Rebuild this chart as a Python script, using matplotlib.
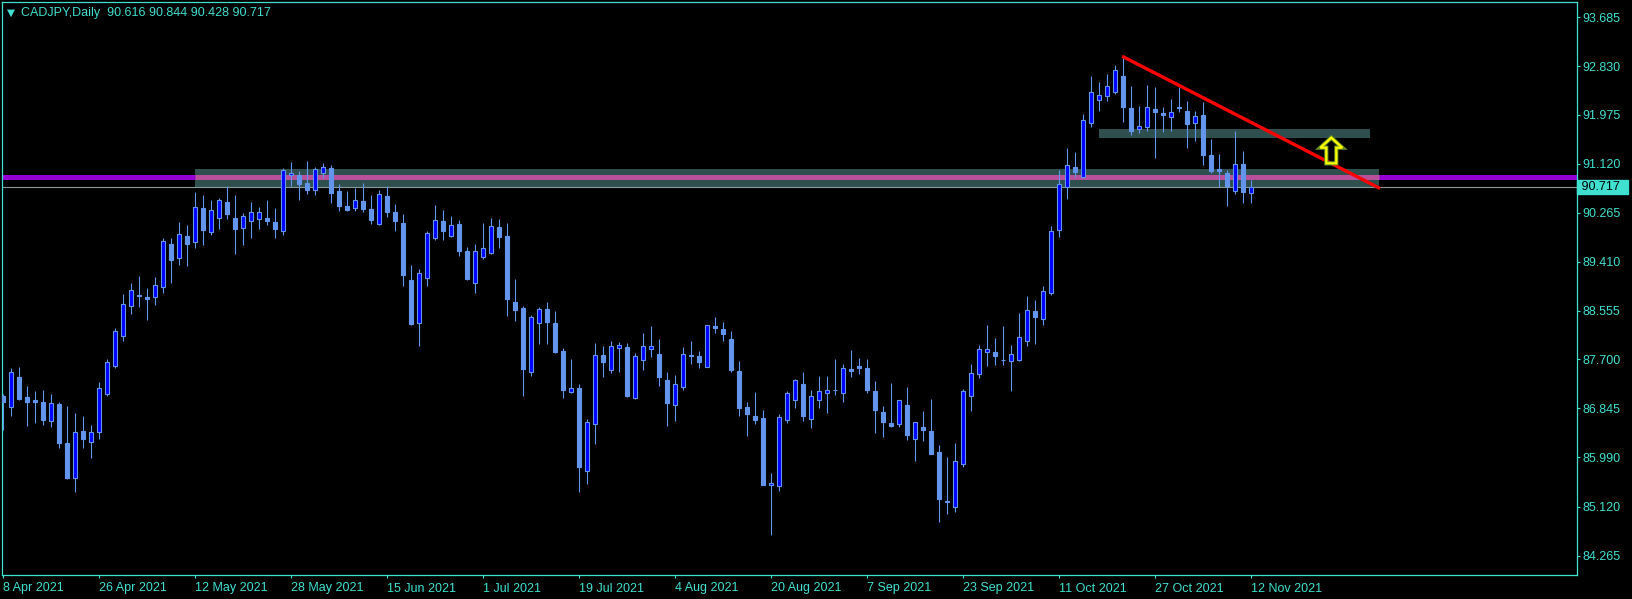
import numpy as np
import pandas as pd
import matplotlib
matplotlib.use("Agg")
import matplotlib.pyplot as plt
import matplotlib.transforms as mtransforms
from matplotlib.patches import Rectangle, Polygon

plt.rcParams['font.family'] = ['Liberation Sans', 'DejaVu Sans']

# daily CADJPY candles (Apr 8 -> Nov 12 2021)
first_day = "2021-04-08"
opens = [87.060, 86.874, 87.387, 87.043, 86.990, 86.955, 86.629, 86.920, 86.232, 85.632,
         86.448, 86.262, 86.436, 87.101, 87.591, 88.115, 88.628, 88.830, 88.792, 88.786,
         88.961, 89.719, 89.480, 89.858, 89.748, 90.342, 89.934, 90.179, 90.453, 90.173,
         90.004, 90.127, 90.162, 90.173, 90.103, 89.952, 90.925, 90.925, 90.785, 90.663,
         90.966, 91.048, 90.646, 90.383, 90.348, 90.471, 90.331, 90.068, 90.558, 90.278,
         90.086, 89.089, 88.331, 89.118, 89.829, 90.121, 89.864, 90.068, 89.596, 89.042,
         89.497, 89.567, 90.016, 89.859, 88.698, 88.599, 87.486, 88.331, 88.576, 88.331,
         87.841, 87.124, 87.194, 85.754, 86.565, 87.777, 87.509, 87.894, 87.911, 87.031,
         87.696, 87.876, 87.795, 87.340, 86.909, 87.223, 87.775, 87.754, 87.573, 88.279,
         88.232, 88.051, 87.497, 86.868, 86.710, 86.675, 85.498, 85.480, 86.635, 86.984,
         87.264, 86.652, 86.984, 87.107, 87.165, 87.107, 87.532, 87.585, 87.544, 87.148,
         86.780, 86.582, 86.576, 86.897, 86.303, 86.518, 86.448, 86.081, 85.222, 85.125,
         85.865, 87.055, 87.439, 87.824, 87.824, 87.687, 87.666, 87.696, 88.016, 88.541,
         88.413, 88.856, 89.958, 90.721, 91.065, 90.896, 91.829, 92.231, 92.301, 92.371,
         92.651, 92.091, 91.736, 91.771, 92.074, 92.010, 91.934, 92.112, 92.039, 91.829,
         91.969, 91.269, 91.030, 90.960, 90.640, 91.112, 90.616]
highs = [87.095, 87.544, 87.567, 87.235, 87.148, 87.165, 87.095, 86.949, 86.885, 86.763,
         86.710, 86.553, 87.299, 87.701, 88.244, 88.844, 89.031, 89.159, 88.949, 89.141,
         89.818, 89.823, 90.103, 90.051, 90.628, 90.575, 90.488, 90.517, 90.733, 90.576,
         90.261, 90.453, 90.366, 90.488, 90.348, 91.048, 91.153, 90.995, 91.170, 91.065,
         91.135, 91.100, 90.768, 90.646, 90.698, 90.785, 90.576, 90.663, 90.733, 90.418,
         90.243, 89.351, 89.281, 89.946, 90.401, 90.313, 90.208, 90.138, 89.666, 89.719,
         90.086, 90.173, 90.156, 90.086, 89.106, 88.634, 88.477, 88.617, 88.704, 88.547,
         87.900, 87.707, 87.270, 86.658, 87.987, 87.935, 88.022, 87.999, 87.981, 87.812,
         88.162, 88.284, 88.057, 87.480, 87.427, 87.917, 88.022, 87.847, 88.310, 88.442,
         88.354, 88.197, 87.672, 86.955, 87.130, 86.815, 85.714, 86.745, 87.142, 87.357,
         87.480, 87.165, 87.410, 87.410, 87.707, 87.620, 87.865, 87.725, 87.707, 87.323,
         86.885, 87.288, 86.990, 87.218, 86.610, 86.798, 87.008, 86.203, 85.994, 86.238,
         87.183, 87.620, 87.952, 88.302, 88.075, 88.284, 87.952, 88.512, 88.809, 88.739,
         88.984, 90.028, 91.007, 91.398, 91.327, 91.986, 92.657, 92.552, 92.692, 92.849,
         92.966, 92.482, 92.132, 92.499, 92.464, 92.115, 92.254, 92.464, 92.219, 92.045,
         92.202, 91.555, 91.293, 91.013, 91.695, 91.345, 90.844]
lows = [86.466, 86.711, 86.990, 86.536, 86.594, 86.553, 86.524, 86.157, 85.609, 85.387,
        86.157, 85.982, 86.314, 87.066, 87.556, 88.028, 88.500, 88.622, 88.395, 88.658,
        88.867, 89.042, 89.351, 89.340, 89.654, 89.701, 89.882, 89.981, 90.156, 89.544,
        89.701, 89.824, 89.981, 90.051, 89.824, 89.876, 90.733, 90.488, 90.593, 90.576,
        90.879, 90.436, 90.296, 90.296, 90.296, 90.278, 90.068, 90.050, 90.191, 89.946,
        88.984, 88.302, 87.938, 88.990, 89.794, 89.789, 89.847, 89.515, 89.089, 88.867,
        89.462, 89.550, 89.654, 88.465, 88.378, 87.066, 87.416, 87.970, 87.970, 87.818,
        87.031, 87.107, 85.387, 85.527, 86.227, 87.398, 87.468, 87.486, 87.049, 87.014,
        87.521, 87.748, 87.241, 86.541, 86.629, 87.171, 87.626, 87.556, 87.560, 88.168,
        88.028, 87.486, 86.716, 86.366, 86.576, 85.500, 84.635, 85.405, 86.594, 86.856,
        86.629, 86.506, 86.856, 86.769, 87.080, 86.961, 87.398, 87.451, 87.118, 86.419,
        86.349, 86.524, 86.524, 86.297, 85.930, 86.279, 86.045, 84.862, 85.003, 85.037,
        85.813, 86.804, 87.369, 87.591, 87.608, 87.608, 87.154, 87.678, 87.941, 87.976,
        88.308, 88.833, 89.835, 90.505, 90.896, 90.879, 91.771, 92.050, 92.225, 92.336,
        91.858, 91.631, 91.666, 91.701, 91.229, 91.683, 91.701, 92.033, 91.403, 91.526,
        91.106, 90.966, 90.721, 90.389, 90.599, 90.441, 90.428]
closes = [86.961, 87.474, 87.002, 86.961, 86.961, 86.641, 86.932, 86.244, 85.632, 86.425,
          86.314, 86.425, 87.200, 87.649, 88.191, 88.663, 88.908, 88.815, 88.763, 88.996,
          89.765, 89.445, 89.888, 89.724, 90.360, 89.969, 90.307, 90.482, 90.243, 89.981,
          90.202, 90.272, 90.272, 90.121, 89.981, 91.007, 90.954, 90.768, 90.663, 91.024,
          91.059, 90.611, 90.383, 90.313, 90.488, 90.331, 90.138, 90.593, 90.278, 90.121,
          89.176, 88.319, 89.205, 89.905, 90.133, 89.952, 90.045, 89.602, 89.106, 89.590,
          89.643, 90.028, 89.847, 88.763, 88.570, 87.538, 88.436, 88.576, 88.360, 87.836,
          87.171, 87.194, 85.824, 86.600, 87.772, 87.661, 87.929, 87.946, 87.060, 87.754,
          87.929, 87.929, 87.398, 86.944, 87.264, 87.789, 87.765, 87.661, 88.296, 88.255,
          88.150, 87.521, 86.856, 86.751, 86.646, 85.510, 85.533, 86.687, 87.107, 87.334,
          86.716, 87.054, 87.142, 87.159, 87.160, 87.544, 87.503, 87.550, 87.171, 86.821,
          86.611, 86.541, 86.984, 86.384, 86.600, 86.471, 86.052, 85.259, 85.215, 85.918,
          87.142, 87.457, 87.876, 87.876, 87.766, 87.682, 87.789, 88.086, 88.558, 88.448,
          88.891, 89.940, 90.762, 91.094, 90.978, 91.881, 92.371, 92.318, 92.476, 92.756,
          92.120, 91.701, 91.776, 92.109, 92.033, 91.980, 92.021, 92.106, 91.823, 91.951,
          91.281, 91.001, 90.989, 90.739, 91.112, 90.634, 90.717]

price_ticks = [93.685, 92.830, 91.975, 91.120, 90.265, 89.410,
               88.555, 87.700, 86.845, 85.990, 85.120, 84.265]
date_step = 12

# drawn objects on the chart
support_zone = (23.96, 172.0, 90.715, 91.030)     # x0, x1 (bars), low, high
upper_zone = (136.96, 170.9, 91.578, 91.730)
level_line = 90.899
trend_start = (139.85, 93.003)
trend_end = (172.1, 90.690)
arrow_x, arrow_tip, arrow_neck, arrow_base = 166.0, 91.578, 91.403, 91.130

fg = '#40e0d0'
bull_fill = '#0000ff'
candle_col = '#6495ed'

o = np.array(opens); h = np.array(highs); l = np.array(lows); c = np.array(closes)
x = np.arange(len(o))
dates = pd.bdate_range(first_day, periods=len(o))
up = c > o

fig = plt.figure(figsize=(16.33, 5.99), dpi=100, facecolor='black')
ax = fig.add_axes([2.3 / 1633, 24 / 599, 1574.4 / 1633, 572.7 / 599])
ax.set_facecolor('black')

# zones and lines
ax.add_patch(Rectangle((support_zone[0], support_zone[2]), support_zone[1] - support_zone[0],
                       support_zone[3] - support_zone[2], facecolor='#2f4f4f', edgecolor='none', zorder=1))
ax.add_patch(Rectangle((upper_zone[0], upper_zone[2]), upper_zone[1] - upper_zone[0],
                       upper_zone[3] - upper_zone[2], facecolor='#2f4f4f', edgecolor='none', zorder=1))
ax.axhline(level_line, color='#9400d3', lw=3.6, zorder=2)
ax.plot([support_zone[0], support_zone[1]], [level_line, level_line], color='#b8509c', lw=3.6,
        solid_capstyle='butt', zorder=2.1)
ax.axhline(c[-1], color='#8a9a9a', lw=0.8, zorder=2.5)

# candles
ax.vlines(x, l, h, color=candle_col, lw=0.8, zorder=3)
ax.bar(x[up], (c - o)[up], bottom=o[up], width=0.5, color=bull_fill, edgecolor=candle_col, lw=0.8, zorder=4)
ax.bar(x[~up], (c - o)[~up], bottom=o[~up], width=0.5, color=candle_col, edgecolor=candle_col, lw=0.8, zorder=4)

# trend line and arrow
ax.plot([trend_start[0], trend_end[0]], [trend_start[1], trend_end[1]], color='#ff0000', lw=2.4,
        solid_capstyle='butt', zorder=5)
arrow_pts = [(arrow_x, arrow_tip), (arrow_x + 1.375, arrow_neck), (arrow_x + 0.625, arrow_neck),
             (arrow_x + 0.625, arrow_base), (arrow_x - 0.625, arrow_base), (arrow_x - 0.625, arrow_neck),
             (arrow_x - 1.375, arrow_neck)]
ax.add_patch(Polygon(arrow_pts, closed=True, facecolor='none', edgecolor='#6b8e23', lw=3.0, zorder=6))
ax.add_patch(Polygon(arrow_pts, closed=True, facecolor='none', edgecolor='#ffff00', lw=1.6, zorder=7))

ax.set_xlim(-0.125, 196.675)
ax.set_ylim(83.930, 93.946)

# axes styling
for s in ax.spines.values():
    s.set_color(fg)
    s.set_linewidth(0.9)
ax.yaxis.tick_right()
ax.set_yticks(price_ticks)
ax.set_yticklabels([f"{v:.3f}" for v in price_ticks])
tick_idx = list(range(0, len(o), date_step))
ax.set_xticks(tick_idx)
ax.set_xticklabels([f"{dates[i].day} {dates[i].strftime('%b %Y')}" for i in tick_idx], ha='left')
ax.tick_params(axis='both', colors=fg, labelcolor=fg, labelsize=9, length=2.4, width=0.8, direction='out')
ax.tick_params(axis='x', pad=3)
ax.tick_params(axis='y', pad=2)

# current price label
ax.annotate(f" {c[-1]:.3f}  ", xy=(1.0, c[-1]), xycoords=mtransforms.blended_transform_factory(ax.transAxes, ax.transData),
            xytext=(1.0, 0), textcoords='offset points', ha='left', va='center', fontsize=9, color='black',
            bbox=dict(boxstyle='square,pad=0.05', facecolor=fg, edgecolor=fg), annotation_clip=False)

# title
fig.text(7.0 / 1633, 1 - 12.5 / 599, "\u25bc", fontsize=7.5, color=fg, va='center', family='DejaVu Sans')
fig.text(21 / 1633, 1 - 12.7 / 599, "CADJPY,Daily  " + " ".join(f"{v:.3f}" for v in (o[-1], h[-1], l[-1], c[-1])),
         fontsize=9, color=fg, va='center')

fig.savefig("out.png", dpi=100, facecolor='black')
